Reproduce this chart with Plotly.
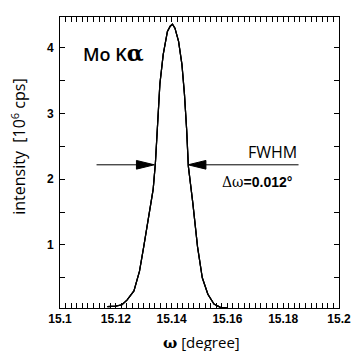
import plotly.graph_objects as go

omega = [15.117, 15.120, 15.1222, 15.1240, 15.1265, 15.1285, 15.1300, 15.1317, 15.1334,
         15.1342, 15.1350, 15.1358, 15.1370, 15.1385, 15.1395, 15.1403, 15.1412, 15.1425,
         15.1437, 15.1446, 15.1454, 15.1460, 15.1476, 15.1493, 15.1510, 15.1530, 15.1552,
         15.1575, 15.1600]
intensity = [0.06, 0.07, 0.09, 0.16, 0.30, 0.60, 0.97, 1.38, 1.85,
             2.25, 2.85, 3.45, 3.90, 4.25, 4.33, 4.36, 4.30, 4.10,
             3.75, 3.30, 2.75, 2.20, 1.64, 0.97, 0.50, 0.25, 0.10,
             0.05, 0.04]

x_ticks = [15.1, 15.12, 15.14, 15.16, 15.18, 15.2]
x_tick_labels = ["15.1", "15.12", "15.14", "15.16", "15.18", "15.2"]
y_ticks = [1, 2, 3, 4]
y_minor = [0.5, 1.5, 2.5, 3.5]

fwhm_left = 15.1338
fwhm_right = 15.1459
half_level = 2.22
arrow_tail_left = 15.1131
arrow_tail_right = 15.1855

x_range = [15.1, 15.2]
y_range = [0.04, 4.47]

fig = go.Figure()
fig.add_trace(go.Scatter(x=omega, y=intensity, mode="lines",
                         line=dict(color="black", width=1.2), showlegend=False))
# traces that carry the mirrored (top/right) tick axes
fig.add_trace(go.Scatter(x=omega, y=intensity, mode="lines", xaxis="x2", yaxis="y",
                         line=dict(color="black", width=1.2), hoverinfo="skip",
                         showlegend=False))
fig.add_trace(go.Scatter(x=omega, y=intensity, mode="lines", xaxis="x", yaxis="y2",
                         line=dict(color="black", width=1.2), hoverinfo="skip",
                         showlegend=False))

# arrow shafts
fig.add_shape(type="line", x0=arrow_tail_left, x1=fwhm_left - 0.004, y0=half_level, y1=half_level,
              line=dict(color="black", width=1))
fig.add_shape(type="line", x0=arrow_tail_right, x1=fwhm_right + 0.004, y0=half_level, y1=half_level,
              line=dict(color="black", width=1))
# arrow heads
hl = 0.0064
hw = 0.066
fig.add_shape(type="path",
              path=f"M {fwhm_left} {half_level} L {fwhm_left - hl} {half_level + hw} L {fwhm_left - hl} {half_level - hw} Z",
              fillcolor="black", line=dict(color="black", width=1))
fig.add_shape(type="path",
              path=f"M {fwhm_right} {half_level} L {fwhm_right + hl} {half_level + hw} L {fwhm_right + hl} {half_level - hw} Z",
              fillcolor="black", line=dict(color="black", width=1))

fig.add_annotation(x=arrow_tail_right, y=half_level, xref="x", yref="y", text="FWHM",
                   showarrow=False, xanchor="right", yanchor="bottom", yshift=0,
                   font=dict(family="Open Sans", size=16, color="black"))
fig.add_annotation(x=arrow_tail_right - 0.0015, y=half_level, xref="x", yref="y",
                   text="<span style='font-family:DejaVu Serif'>Δω</span><b>=0.012°</b>",
                   showarrow=False, xanchor="right", yanchor="middle", yshift=-17,
                   font=dict(family="Arial", size=14, color="black"))
fig.add_annotation(x=0.075, y=0.875, xref="paper", yref="paper",
                   text="Mo K<b><span style='font-family:DejaVu Serif;font-size:22px'>α</span></b>",
                   showarrow=False, xanchor="left", yanchor="middle",
                   font=dict(family="Open Sans", size=18, color="black", weight=600))

# axis titles
fig.add_annotation(x=-0.148, y=0.553, xref="paper", yref="paper",
                   text="intensity  [10<sup>6</sup> cps]", textangle=-90, showarrow=False,
                   xanchor="center", yanchor="middle",
                   font=dict(family="Open Sans", size=16, color="black", weight=500))
fig.add_annotation(x=0.507, y=-0.117, xref="paper", yref="paper",
                   text="<b><span style='font-family:DejaVu Serif'>ω</span></b> [degree]",
                   showarrow=False, xanchor="center", yanchor="middle",
                   font=dict(family="Open Sans", size=15, color="black", weight=500))

tickfont = dict(family="Arial", size=12, color="black", weight="bold")

fig.update_layout(
    width=363, height=351, margin=dict(l=60, r=13, t=17, b=43),
    plot_bgcolor="white", paper_bgcolor="white", showlegend=False,
    xaxis=dict(range=x_range, tickvals=x_ticks, ticktext=x_tick_labels, ticks="inside",
               ticklen=5, tickcolor="black", showline=True, linecolor="black", linewidth=1,
               mirror="allticks", showgrid=False, zeroline=False, tickfont=tickfont,
               minor=dict(dtick=0.002, ticks="inside", ticklen=3, tickcolor="black", showgrid=False)),
    yaxis=dict(range=y_range, tickvals=y_ticks, ticks="inside", ticklen=5, tickcolor="black",
               showline=True, linecolor="black", linewidth=1, mirror="allticks", showgrid=False,
               zeroline=False, tickfont=tickfont, ticklabelstandoff=3,
               minor=dict(tickvals=y_minor, ticks="inside", ticklen=3, tickcolor="black", showgrid=False)),
    xaxis2=dict(range=x_range, overlaying="x", side="top", anchor="y", tickvals=x_ticks,
                ticks="inside", ticklen=5, tickcolor="black", showticklabels=False,
                showgrid=False, zeroline=False, showline=True, linecolor="black",
                minor=dict(dtick=0.002, ticks="inside", ticklen=3, tickcolor="black", showgrid=False)),
    yaxis2=dict(range=y_range, overlaying="y", side="right", anchor="x", tickvals=y_ticks,
                ticks="inside", ticklen=5, tickcolor="black", showticklabels=False,
                showgrid=False, zeroline=False, showline=True, linecolor="black",
                minor=dict(tickvals=y_minor, ticks="inside", ticklen=3, tickcolor="black", showgrid=False)),
)

fig.write_html("out.html", config={"displayModeBar": False},
               post_script="document.body.style.margin='0';")
